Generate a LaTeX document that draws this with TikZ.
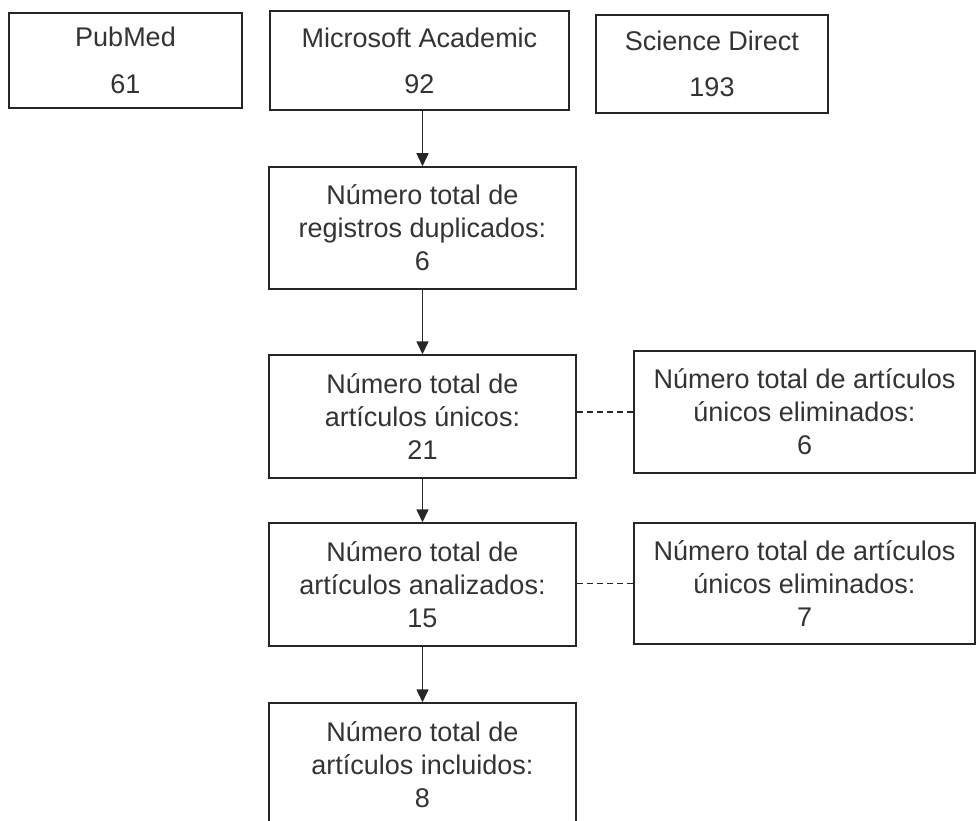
\documentclass[tikz,border=0pt]{standalone}
\usepackage{fontspec}
\setmainfont{Liberation Sans}
\usetikzlibrary{arrows.meta}

\begin{document}
\begin{tikzpicture}[x=1pt,y=-1pt,
  caja/.style={draw=black!85, line width=1.5pt, text=black!80, align=center, inner sep=0pt, font=\fontsize{27}{33}\selectfont},
  flecha/.style={-{Triangle[length=13pt,width=12pt]}, line width=1.5pt, draw=black!85},
  guion/.style={dash pattern=on 6pt off 4pt, line width=1.5pt, draw=black!85}]
\useasboundingbox (0,0) rectangle (977,821);
% bases de datos
\node[caja, minimum width=233pt, minimum height=95pt] (pubmed) at (125.5,60.5) {PubMed\\[14pt]61};
\node[caja, minimum width=299pt, minimum height=99pt] (microsoft) at (419.5,60.5) {Microsoft Academic\\[13pt]92};
\node[caja, minimum width=232pt, minimum height=98pt] (science) at (712,64) {Science Direct\\[13pt]193};
% flujo principal
\node[caja, minimum width=307pt, minimum height=122pt] (duplicados) at (422.5,228) {N\'umero total de\\registros duplicados:\\6};
\node[caja, minimum width=307pt, minimum height=123pt] (unicos) at (422.5,416.5) {N\'umero total de\\art\'iculos \'unicos:\\21};
\node[caja, minimum width=307pt, minimum height=123pt] (analizados) at (422.5,584.5) {N\'umero total de\\art\'iculos analizados:\\15};
\node[caja, minimum width=307pt, minimum height=123pt] (incluidos) at (422.5,764.5) {N\'umero total de\\art\'iculos incluidos:\\8};
% eliminados
\node[caja, minimum width=341pt, minimum height=122pt] (elim1) at (804.5,412) {N\'umero total de art\'iculos\\\'unicos eliminados:\\6};
\node[caja, minimum width=341pt, minimum height=121pt] (elim2) at (804.5,583.5) {N\'umero total de art\'iculos\\\'unicos eliminados:\\7};

\draw[flecha] (duplicados.north |- microsoft.south) -- (duplicados.north);
\draw[flecha] (duplicados) -- (unicos);
\draw[flecha] (unicos) -- (analizados);
\draw[flecha] (analizados) -- (incluidos);
\draw[guion] (unicos.east |- elim1.west) -- (elim1.west);
\draw[guion] (analizados.east |- elim2.west) -- (elim2.west);
\end{tikzpicture}
\end{document}
